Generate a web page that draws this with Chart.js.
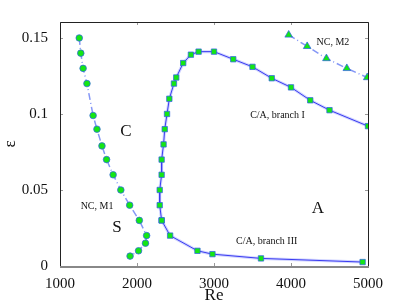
<!DOCTYPE html>
<html>
<head>
<meta charset="utf-8">
<script src="https://cdn.jsdelivr.net/npm/chart.js@4.4.0/dist/chart.umd.min.js"></script>
<style>
  body { margin: 0; background: #fff; }
  #wrap { width: 407px; height: 306px; }
</style>
</head>
<body>
<div id="wrap"><canvas id="grafico"></canvas></div>
<script>
// datos
const reM1 = [1250, 1270, 1300, 1350, 1430, 1480, 1545, 1605, 1690, 1790, 1905, 2030, 2125, 2110, 2020, 1910];
const epsM1 = [0.15, 0.14, 0.13, 0.12, 0.099, 0.09, 0.079, 0.07, 0.06, 0.05, 0.04, 0.03, 0.02, 0.015, 0.01, 0.0065];

const reM2 = [3970, 4210, 4460, 4725, 4990];
const epsM2 = [0.152, 0.1445, 0.1365, 0.13, 0.124];

const reRamaI = [5000, 4500, 4250, 4000, 3750, 3500, 3250, 3000, 2800, 2700, 2600, 2510, 2480, 2420, 2390, 2360, 2345, 2320, 2320, 2295, 2295, 2320];
const epsRamaI = [0.092, 0.1025, 0.109, 0.1175, 0.1235, 0.131, 0.136, 0.141, 0.141, 0.139, 0.1335, 0.124, 0.12, 0.11, 0.1, 0.09, 0.08, 0.07, 0.06, 0.05, 0.04, 0.03];

const reRamaIII = [2320, 2430, 2785, 2980, 3610, 4930];
const epsRamaIII = [0.03, 0.02, 0.01, 0.0078, 0.005, 0.0026];

const xTicks = [1000, 2000, 3000, 4000, 5000];
const yTicks = [0, 0.05, 0.1, 0.15];

const notas = [
    { text: 'C', x: 1857, y: 0.0885, size: 17 },
    { text: 'S', x: 1740, y: 0.025, size: 17 },
    { text: 'A', x: 4350, y: 0.0375, size: 17 },
    { text: 'NC, M1', x: 1481, y: 0.039, size: 10 },
    { text: 'C/A, branch I', x: 3825, y: 0.099, size: 10 },
    { text: 'C/A, branch III', x: 3684, y: 0.0164, size: 10 },
    { text: 'NC, M2', x: 4545, y: 0.147, size: 10 }
];

const pares = (xs, ys) => xs.map((x, i) => ({ x: x, y: ys[i] }));

const verde = '#14e614';
const bordePunto = 'rgba(50,100,230,0.75)';

function serieNC(xs, ys, forma, radio) {
    return {
        data: pares(xs, ys),
        showLine: true,
        borderColor: 'rgba(120,140,245,0.9)',
        borderWidth: 1.5,
        borderDash: [7, 3, 1, 3],
        pointStyle: forma,
        pointRadius: radio,
        pointBackgroundColor: verde,
        pointBorderColor: bordePunto,
        pointBorderWidth: 1
    };
}

// banda clara debajo de las ramas C/A
function fondoRama(xs, ys) {
    return {
        data: pares(xs, ys),
        showLine: true,
        borderColor: 'rgba(150,160,255,0.45)',
        borderWidth: 3,
        pointRadius: 0,
        order: 10
    };
}

function serieRama(xs, ys) {
    return {
        data: pares(xs, ys),
        showLine: true,
        borderColor: '#3a3af0',
        borderWidth: 1,
        pointStyle: 'rect',
        pointRadius: 3.8,
        pointBackgroundColor: verde,
        pointBorderColor: bordePunto,
        pointBorderWidth: 1,
        order: 1
    };
}

// marco, marcas hacia dentro y textos
const marco = {
    id: 'marco',
    afterDatasetsDraw(chart) {
        const { ctx, chartArea: a, scales } = chart;
        ctx.save();
        ctx.strokeStyle = '#999';
        ctx.lineWidth = 1;
        xTicks.forEach(v => {
            const px = Math.round(scales.x.getPixelForValue(v)) + 0.5;
            ctx.beginPath();
            ctx.moveTo(px, a.top); ctx.lineTo(px, a.top + 3);
            ctx.moveTo(px, a.bottom); ctx.lineTo(px, a.bottom - 3);
            ctx.stroke();
        });
        yTicks.forEach(v => {
            const py = Math.round(scales.y.getPixelForValue(v)) + 0.5;
            ctx.beginPath();
            ctx.moveTo(a.left, py); ctx.lineTo(a.left + 3, py);
            ctx.moveTo(a.right, py); ctx.lineTo(a.right - 3, py);
            ctx.stroke();
        });
        ctx.strokeStyle = '#222';
        ctx.beginPath();
        ctx.moveTo(a.left + 0.5, a.bottom);
        ctx.lineTo(a.left + 0.5, a.top + 0.5);
        ctx.lineTo(a.right + 0.5, a.top + 0.5);
        ctx.lineTo(a.right + 0.5, a.bottom);
        ctx.stroke();
        ctx.strokeStyle = '#888';
        ctx.lineWidth = 2;
        ctx.beginPath();
        ctx.moveTo(a.left, a.bottom + 1);
        ctx.lineTo(a.right + 1, a.bottom + 1);
        ctx.stroke();

        ctx.fillStyle = '#111';
        ctx.textAlign = 'center';
        ctx.textBaseline = 'middle';
        notas.forEach(n => {
            ctx.font = n.size + 'px "Liberation Serif"';
            ctx.fillText(n.text, scales.x.getPixelForValue(n.x), scales.y.getPixelForValue(n.y));
        });
        ctx.restore();
    }
};

const ctx = document.getElementById('grafico').getContext('2d');
const grafico = new Chart(ctx, {
    type: 'scatter',
    data: {
        datasets: [
            serieNC(reM1, epsM1, 'circle', 3.3),
            serieNC(reM2, epsM2, 'triangle', 4.4),
            serieRama(reRamaI, epsRamaI),
            serieRama(reRamaIII, epsRamaIII),
            fondoRama(reRamaI, epsRamaI),
            fondoRama(reRamaIII, epsRamaIII)
        ]
    },
    options: {
        responsive: true,
        maintainAspectRatio: false,
        animation: false,
        layout: { padding: { left: 0, right: 39, top: 22, bottom: 0 } },
        plugins: {
            legend: { display: false },
            tooltip: { enabled: false }
        },
        scales: {
            x: {
                type: 'linear',
                min: 1000,
                max: 5000,
                afterBuildTicks: s => { s.ticks = xTicks.map(v => ({ value: v })); },
                afterFit: s => { s.height = 40; },
                grid: { display: false },
                border: { display: false },
                ticks: {
                    color: '#111',
                    padding: 1,
                    maxRotation: 0,
                    callback: v => String(v),
                    font: { family: 'Liberation Serif', size: 15 }
                },
                title: {
                    display: true,
                    text: 'Re',
                    color: '#111',
                    padding: { top: -3, bottom: 0 },
                    font: { family: 'Liberation Serif', size: 17 }
                }
            },
            y: {
                type: 'linear',
                min: 0,
                max: 0.1605,
                afterBuildTicks: s => { s.ticks = yTicks.map(v => ({ value: v })); },
                afterFit: s => { s.width = 60; },
                grid: { display: false },
                border: { display: false },
                ticks: {
                    color: '#111',
                    padding: 4,
                    callback: v => String(v),
                    font: { family: 'Liberation Serif', size: 15 }
                },
                title: {
                    display: true,
                    text: 'ε',
                    color: '#111',
                    padding: 0,
                    font: { family: 'Liberation Serif', size: 17 }
                }
            }
        }
    },
    plugins: [marco]
});
</script>
</body>
</html>
